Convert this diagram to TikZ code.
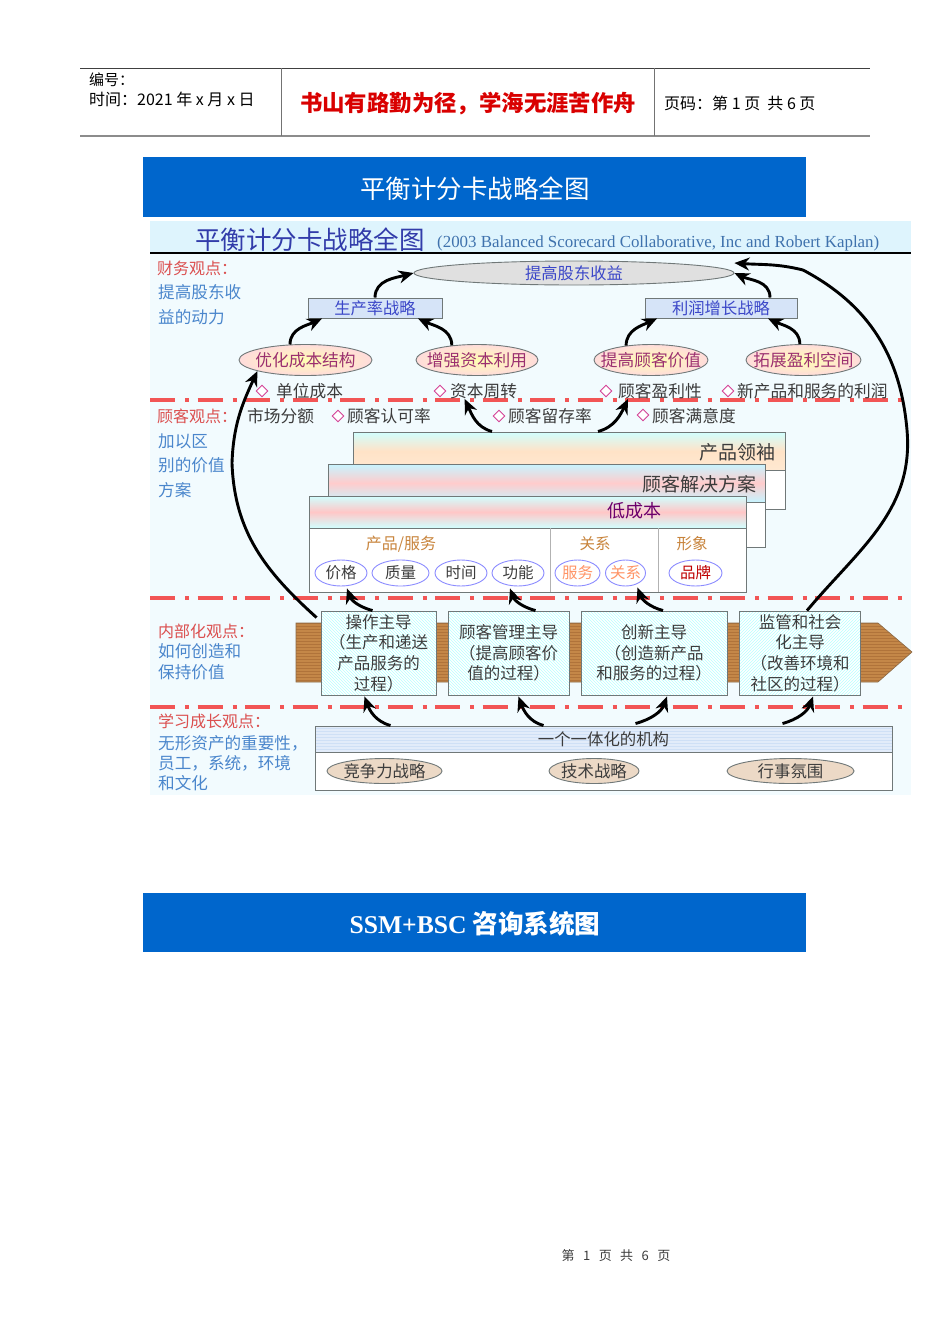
\documentclass[tikz,border=0pt]{standalone}
\usepackage{fontspec}
\setmainfont{Noto Sans CJK SC}
\newfontfamily\latinserif{Liberation Serif}
\usepackage{tikz}
\usetikzlibrary{shapes.geometric, arrows.meta, patterns}

\definecolor{bannerblue}{HTML}{0066CC}
\definecolor{perred}{HTML}{DB4F4F}
\definecolor{sideblue}{HTML}{4A86CC}
\definecolor{linered}{HTML}{F25555}
\definecolor{plumtxt}{HTML}{9B2F70}
\definecolor{bluetxt}{HTML}{3B47C8}
\definecolor{edgegray}{HTML}{707878}
\definecolor{darktxt}{HTML}{3C3C3C}
\definecolor{wood}{HTML}{C48748}
\definecolor{woodline}{HTML}{B0733A}
\definecolor{woodedge}{HTML}{8A6A48}
\definecolor{ordertxt}{HTML}{C8843C}
\definecolor{stratfill}{HTML}{D6E4F8}
\definecolor{orgfill}{HTML}{E2ECFA}
\definecolor{orgline}{HTML}{CFE0F6}
\newcommand{\fsz}[2]{\fontsize{#1}{#2}\selectfont}

\tikzset{
  persp/.style={anchor=west, inner sep=0pt, text=perred, font=\fsz{16}{18}},
  sidetxt/.style={anchor=west, inner sep=0pt, text=sideblue, font=\fsz{16.6}{18}},
  item/.style={anchor=west, inner sep=0pt, text=darktxt, font=\fsz{16.7}{18}},
  gem/.style={diamond, draw=magenta!70!gray, fill=white, line width=.9pt, minimum size=12pt, inner sep=0pt},
  stratbox/.style={draw=edgegray, fill=stratfill, line width=.9pt, inner sep=0pt, text=bluetxt, font=\fsz{16.3}{18}, minimum height=20pt},
  goaloval/.style={ellipse, draw=edgegray, inner color=yellow!30!white, outer color=red!14!white, line width=.9pt, inner xsep=-24pt, inner ysep=0pt, minimum height=31pt, text=plumtxt, font=\fsz{16.7}{18}},
  smalloval/.style={ellipse, draw=blue!45!white, fill=white, line width=.9pt, inner xsep=-12pt, inner ysep=0pt, minimum height=26pt, text=darktxt, font=\fsz{15.5}{18}},
  baseoval/.style={ellipse, draw=edgegray, fill=brown!30!white, line width=.9pt, inner xsep=-20pt, inner ysep=-2pt, minimum height=25pt, text=darktxt, font=\fsz{16.4}{18}},
  procbox/.style={draw=edgegray, preaction={fill=white}, pattern=north west lines, pattern color=cyan!28!white, line width=.9pt, inner sep=0pt, minimum height=84pt, align=center, text=darktxt, font=\fsz{16.5}{20.6}},
  bandlabel/.style={inner sep=0pt, text=darktxt, font=\fsz{19}{22}},
  perline/.style={draw=linered, line width=3.2pt, dash pattern=on 25pt off 10pt on 4pt off 8.5pt},
  flow/.style={draw=black, line width=2.9pt, -{Stealth[length=15pt,width=13pt]}},
}

\begin{document}
\begin{tikzpicture}[x=1pt, y=-1pt]
\useasboundingbox (0,0) rectangle (950,1344);
\fill[white] (0,0) rectangle (950,1344);

% page head
\draw[line width=1pt, black!75] (80,68)--(870,68);
\draw[line width=1.5pt, black!45] (80,136)--(870,136);
\draw[line width=.8pt, black!55] (281,68)--(281,136);
\draw[line width=.8pt, black!55] (654,68)--(654,136);
\node (headNo) [anchor=west, inner sep=0pt, font=\fsz{15}{18}] at (89,80) {编号：};
\node (headTime) [anchor=west, inner sep=0pt, font=\fsz{16}{18}] at (89,99) {时间：2021 年 x 月 x 日};
\node (headMotto) [inner sep=0pt, text=red!85!black, font=\fsz{22.4}{24}\bfseries] at (468,104) {书山有路勤为径，学海无涯苦作舟};
\node (headPage) [anchor=west, inner sep=0pt, font=\fsz{16}{18}] at (664,103) {页码：第 1 页\ \ 共 6 页};

% blue banners
\fill[bannerblue] (143,157) rectangle (806,217);
\node (bannerOne) [inner sep=0pt, text=white, font=\fsz{25.5}{28}] at (475,189) {平衡计分卡战略全图};
\fill[bannerblue] (143,893) rectangle (806,952);
\node (bannerTwo) [inner sep=0pt, text=white, font=\fsz{25.6}{28}\bfseries] at (475,924) {{\latinserif SSM+BSC} 咨询系统图};

% map ground
\fill[cyan!5!white] (150,221) rectangle (911,795);
\fill[cyan!13!white] (150,221) rectangle (911,253);
\draw[line width=2.6pt] (150,253)--(911,253);
\node (mapTitle) [anchor=west, inner sep=0pt, text=bluetxt!85!black, font=\fsz{25.5}{28}] at (195,240) {平衡计分卡战略全图};
\node (mapSource) [anchor=west, inner sep=0pt, text=sideblue!85!black, font=\fsz{16.9}{18}\latinserif] at (437,243) {(2003 Balanced Scorecard Collaborative, Inc and Robert Kaplan)};

\draw[perline] (150,400)--(906,400);
\draw[perline] (150,598)--(906,598);
\draw[perline] (150,707)--(906,707);

% left column
\node (finHead) [persp] at (157,268) {财务观点：};
\node (finOne) [sidetxt] at (158,292) {提高股东收};
\node (finTwo) [sidetxt] at (158,317) {益的动力};
\node (cusHead) [persp] at (157,416) {顾客观点：};
\node (cusOne) [sidetxt] at (158,441) {加以区};
\node (cusTwo) [sidetxt] at (158,465) {别的价值};
\node (cusThree) [sidetxt] at (158,490) {方案};
\node (intHead) [persp] at (158,631) {内部化观点：};
\node (intOne) [sidetxt] at (158,651) {如何创造和};
\node (intTwo) [sidetxt] at (158,672) {保持价值};
\node (lrnHead) [persp] at (158,721) {学习成长观点：};
\node (lrnOne) [sidetxt] at (158,743) {无形资产的重要性，};
\node (lrnTwo) [sidetxt] at (158,763) {员工，系统，环境};
\node (lrnThree) [sidetxt] at (158,783) {和文化};

% financial layer
\node (goal) [ellipse, draw=edgegray, fill=black!12, line width=.9pt, inner xsep=-24pt, inner ysep=0pt, minimum width=320pt, minimum height=24pt, text=bluetxt, font=\fsz{16.3}{18}] at (574,273) {提高股东收益};
\node (rate) [stratbox, minimum width=134pt] at (375,308) {生产率战略};
\node (profit) [stratbox, minimum width=152pt] at (721,308) {利润增长战略};
\node (cost) [goaloval, minimum width=133pt] at (305.5,360) {优化成本结构};
\node (capital) [goaloval, minimum width=122pt] at (477,360) {增强资本利用};
\node (custval) [goaloval, minimum width=114pt] at (651,360) {提高顾客价值};
\node (space) [goaloval, minimum width=115pt] at (803.5,360) {拓展盈利空间};

% measures
\node (gemA) [gem] at (262,391) {};
\node (unitCost) [item] at (276,391) {单位成本};
\node (gemB) [gem] at (440,391) {};
\node (capTurn) [item] at (450,391) {资本周转};
\node (gemC) [gem] at (606,391) {};
\node (custProfit) [item] at (618,391) {顾客盈利性};
\node (gemD) [gem] at (728,391) {};
\node (newProfit) [item] at (737,391) {新产品和服务的利润};
\node (share) [item] at (247,416) {市场分额};
\node (gemE) [gem] at (338,416) {};
\node (recog) [item] at (347,416) {顾客认可率};
\node (gemF) [gem] at (499,416) {};
\node (retain) [item] at (508,416) {顾客留存率};
\node (gemG) [gem] at (643,415) {};
\node (satisf) [item] at (652,416) {顾客满意度};

% stacked value tables
\draw[draw=edgegray, fill=white, line width=1pt] (353,432) rectangle (785,509);
\node (bandProd) [draw=edgegray, line width=1pt, inner sep=0pt, minimum width=432pt, minimum height=38pt, top color=cyan!18!white, bottom color=orange!18!white, middle color=orange!22!white] at (569,451) {};
\node (prodLead) [bandlabel, anchor=east] at (776,452) {产品领袖};
\draw[draw=edgegray, fill=white, line width=1pt] (328,464) rectangle (765,547);
\node (bandSol) [draw=edgegray, line width=1pt, inner sep=0pt, minimum width=437pt, minimum height=38pt, top color=blue!20!cyan!22!white, bottom color=blue!20!cyan!22!white, middle color=red!20!white] at (546.5,483) {};
\node (custSol) [bandlabel, anchor=east] at (757,484) {顾客解决方案};
\draw[draw=edgegray, fill=white, line width=1pt] (309,496) rectangle (746,592);
\node (bandLow) [draw=edgegray, line width=1pt, inner sep=0pt, minimum width=437pt, minimum height=32pt, top color=cyan!18!white, bottom color=cyan!18!white, middle color=red!22!white] at (527.5,512) {};
\node (lowCost) [bandlabel, text=violet!85!black, font=\fsz{18}{20}] at (634,511) {低成本};
\draw[black!30, line width=1pt] (550,528)--(550,592);
\draw[black!30, line width=1pt] (658,528)--(658,592);
\node (attrProd) [inner sep=0pt, text=ordertxt, font=\fsz{16}{18}] at (401,544) {产品/服务};
\node (attrRel) [inner sep=0pt, text=ordertxt, font=\fsz{15.5}{18}] at (595,544) {关系};
\node (attrImg) [inner sep=0pt, text=ordertxt, font=\fsz{15.5}{18}] at (692,544) {形象};
\node (price) [smalloval, minimum width=52pt] at (341,573) {价格};
\node (quality) [smalloval, minimum width=57pt] at (400.5,573) {质量};
\node (timeOval) [smalloval, minimum width=52pt] at (461,573) {时间};
\node (func) [smalloval, minimum width=52pt] at (518,573) {功能};
\node (service) [smalloval, minimum width=45pt, text=orange!60!red!60!white] at (577.5,573) {服务};
\node (relation) [smalloval, minimum width=40pt, text=orange!60!red!60!white] at (625.5,573) {关系};
\node (brand) [smalloval, minimum width=53pt, text=red!75!black] at (695.5,573) {品牌};

% process arrow
\draw[draw=woodedge, preaction={fill=wood}, pattern=horizontal lines, pattern color=woodline, line width=.6pt]
  (296,623)--(878,623)--(912,652)--(878,682)--(296,682)--cycle;
\node (procOp) [procbox, minimum width=115pt] at (378.5,653) {操作主导\\（生产和递送\\产品服务的\\过程）};
\node (procCust) [procbox, minimum width=121pt] at (508.5,653) {顾客管理主导\\（提高顾客价\\值的过程）};
\node (procInno) [procbox, minimum width=146pt] at (654,653) {创新主导\\（创造新产品\\和服务的过程）};
\node (procSoc) [procbox, pattern=north east lines, minimum width=121pt] at (800,653) {监管和社会\\化主导\\（改善环境和\\社区的过程）};

% learning layer
\draw[draw=edgegray, fill=white, line width=1pt] (315,726) rectangle (892,790);
\node (orgBand) [draw=edgegray, preaction={fill=orgfill}, pattern=horizontal lines, pattern color=orgline, line width=1pt, inner sep=0pt, minimum width=577pt, minimum height=26pt, text=darktxt, font=\fsz{16.4}{18}] at (603.5,739) {一个一体化的机构};
\node (compete) [baseoval, minimum width=115pt] at (384.5,771) {竞争力战略};
\node (tech) [baseoval, minimum width=90pt] at (594,771) {技术战略};
\node (climate) [baseoval, minimum width=127pt] at (790.5,771) {行事氛围};

\coordinate (bendEast) at (907,430);
\coordinate (bendTop) at (803,270);
\coordinate (bendWest) at (232,463);

% map arrows
\draw[flow] (rate.north) to[out=90,in=195] (goal.west);
\draw[flow] (profit.north) ++(49pt,0) to[out=90,in=-25] (goal.east);
\draw[flow] (cost.135) to[out=90,in=205] ([xshift=-53pt]rate.south);
\draw[flow] (capital.150) to[out=90,in=-25] ([xshift=43pt]rate.south);
\draw[flow] (custval.150) to[out=90,in=205] ([xshift=-64pt]profit.south);
\draw[flow] (space.103) to[out=90,in=-25] ([xshift=47pt]profit.south);
\draw[flow] ([xshift=7pt]procSoc.north) to[out=50,in=-85] (bendEast) to[out=95,in=-28] (bendTop) to[out=166,in=-4] ([yshift=10pt]goal.east);
\draw[flow] ([xshift=-4pt,yshift=-7pt]procOp.north west) to[out=138,in=-88] (bendWest) to[out=88,in=245] (cost.193);
\draw[flow] ([xshift=-77pt]bandProd.north) to[out=165,in=-65] ([xshift=-19pt]capTurn.south);
\draw[flow] ([xshift=29pt]bandProd.north) to[out=15,in=-115] ([xshift=-32pt]custProfit.south);
\draw[flow] ([xshift=-6pt]procOp.north) to[out=165,in=-70] ([xshift=6pt,yshift=-2pt]price.south);
\draw[flow] ([xshift=27pt]procCust.north) to[out=165,in=-70] ([xshift=-8pt,yshift=-2pt]func.south);
\draw[flow] ([xshift=9pt]procInno.north) to[out=165,in=-70] ([xshift=12pt,yshift=-1pt]relation.south);
\draw[flow] ([xshift=-213pt]orgBand.north) to[out=165,in=-70] ([xshift=-14pt,yshift=-1pt]procOp.south);
\draw[flow] ([xshift=-60pt]orgBand.north) to[out=165,in=-70] ([xshift=10pt,yshift=-1pt]procCust.south);
\draw[flow] ([xshift=32pt,yshift=2pt]orgBand.north) to[out=15,in=-110] ([xshift=13pt,yshift=-1pt]procInno.south);
\draw[flow] ([xshift=179pt,yshift=2pt]orgBand.north) to[out=15,in=-110] ([xshift=13pt,yshift=-1pt]procSoc.south);

% page foot
\node (footPage) [inner sep=0pt, text=darktxt, font=\fsz{13}{16}] at (616,1256) {第\hspace{.65em}1\hspace{.65em}页\hspace{.65em}共\hspace{.65em}6\hspace{.65em}页};
\end{tikzpicture}
\end{document}
